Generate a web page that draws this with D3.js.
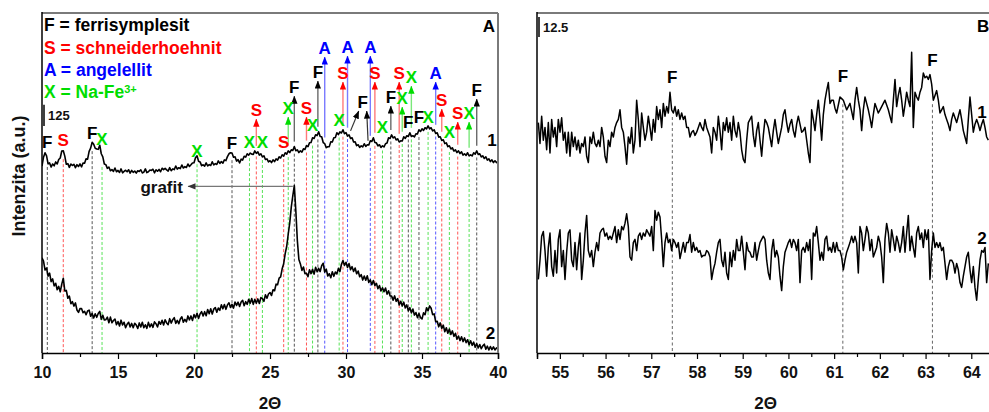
<!DOCTYPE html>
<html><head><meta charset="utf-8">
<script src="https://cdn.jsdelivr.net/npm/d3@7"></script>
<style>
body{margin:0;background:#fff;}
svg{display:block;font-family:Arial,"Liberation Sans",Helvetica,sans-serif;}
text{font-weight:bold;}
</style></head><body>
<svg id="chart" width="989" height="412"></svg>
<script>
// ---------------- DATA ----------------
// Panel A: 2-theta grid 10..40 step 0.1, intensities (a.u.)
const A_START = 10, A_STEP = 0.1;
const curveA1 = [
1100,1152,1178,1160,1112,1118,1094,1112,1101,1124,
1112,1138,1147,1188,1190,1158,1110,1114,1092,1112,
1103,1110,1090,1108,1097,1112,1095,1118,1116,1142,
1140,1186,1205,1240,1228,1204,1200,1198,1222,1172,
1154,1112,1108,1086,1094,1072,1079,1068,1088,1066,
1074,1062,1083,1060,1068,1075,1066,1078,1058,1074,
1063,1070,1058,1072,1068,1078,1059,1064,1083,1061,
1066,1076,1074,1081,1060,1078,1069,1080,1066,1087,
1079,1086,1077,1070,1090,1072,1083,1079,1100,1082,
1090,1085,1106,1088,1096,1091,1112,1097,1107,1118,
1119,1148,1160,1128,1124,1102,1107,1099,1118,1100,
1108,1103,1125,1106,1114,1109,1130,1115,1126,1117,
1136,1132,1155,1172,1178,1176,1152,1154,1129,1137,
1118,1140,1135,1157,1152,1172,1164,1176,1170,1168,
1189,1174,1183,1164,1172,1153,1160,1138,1142,1124,
1131,1120,1136,1126,1142,1135,1154,1147,1166,1158,
1178,1170,1189,1179,1195,1191,1214,1190,1195,1179,
1189,1182,1201,1197,1220,1214,1237,1238,1266,1262,
1284,1279,1301,1274,1272,1238,1231,1208,1213,1214,
1242,1241,1266,1268,1295,1285,1301,1294,1313,1290,
1296,1276,1283,1262,1266,1241,1242,1220,1225,1209,
1219,1212,1231,1215,1225,1224,1248,1244,1266,1238,
1236,1218,1225,1209,1219,1212,1231,1235,1266,1262,
1283,1265,1272,1253,1260,1241,1248,1247,1272,1262,
1278,1274,1295,1274,1278,1271,1289,1288,1313,1303,
1319,1309,1325,1318,1336,1318,1325,1306,1313,1291,
1295,1270,1272,1250,1254,1232,1236,1214,1219,1200,
1207,1188,1195,1179,1189,1173,1183,1164,1172,1162,
1178,1159,1166,1159,1178,1170,1189,1168,1172,1153,
1160,1144,1154,1135,1142,1126,1136,1120,1131,1120,
1126];
const curveA2 = [
560,540,488,500,452,470,420,436,395,410,
372,392,360,405,440,365,368,322,335,290,
302,276,295,253,239,261,262,237,245,225,
247,252,216,233,206,231,210,232,245,198,
222,194,196,211,178,211,178,191,200,166,
185,159,193,165,181,149,169,181,153,174,
149,175,164,144,177,153,181,149,166,145,
180,153,171,151,183,172,153,185,169,192,
165,195,177,167,202,176,196,208,174,192,
172,200,213,181,198,183,218,195,218,191,
226,207,234,203,230,243,218,243,219,256,
231,260,229,258,267,240,265,251,283,260,
285,257,283,295,268,286,264,300,280,299,
274,300,310,278,302,286,316,292,320,286,
316,293,318,291,326,320,304,343,322,347,
356,338,372,366,405,402,440,448,495,525,
585,628,700,765,858,925,985,835,660,550,
524,486,506,467,469,449,490,467,492,464,
504,478,498,479,514,528,476,493,453,466,
443,478,451,476,465,498,479,522,544,515,
534,503,526,490,508,480,500,466,482,449,
461,429,453,428,454,415,430,402,426,397,
410,378,397,365,384,361,382,346,366,336,
335,311,336,304,320,282,304,277,299,265,
283,248,267,236,259,223,238,208,232,208,
200,236,225,266,248,277,263,226,230,184,
187,154,177,145,164,125,148,116,141,109,
130,98,116,81,100,73,95,67,89,61,
78,48,72,45,64,34,55,30,50,25,
42,52,22,40,18,38,20,36,18,30,
24];
// Panel B: 2-theta grid from 54.529 with step 0.036458
const B_START = 54.529, B_STEP = 0.036458;
const curveB1 = [144,131,148,133,141,127,144,125,146,135,
141,129,146,138,147,133,138,125,138,123,
138,129,135,127,133,125,131,129,135,123,
119,135,131,138,131,129,133,129,141,135,
123,119,133,129,138,135,141,144,146,152,
141,138,129,118,135,131,141,125,133,158,
146,129,150,141,133,138,148,141,133,146,
138,154,146,152,141,156,148,154,150,163,
152,150,154,148,152,146,150,146,148,141,
141,135,138,139,136,138,141,144,141,139,
146,141,138,135,125,141,138,133,148,139,
127,144,139,147,138,144,133,148,139,135,
144,
138,127,121,119,133,144,146,148,136,129,
139,144,133,123,136,146,144,141,135,129,
139,146,138,131,136,141,149,152,144,138,
143,146,139,135,143,148,143,138,139,141,
133,125,119,152,146,139,149,158,146,133,
149,158,164,169,156,158,158,153,150,155,
160,159,158,155,152,154,156,151,146,158,
166,158,152,139,152,160,156,152,147,141,
149,156,153,150,152,154,156,158,155,152,
148,144,158,171,154,161,166,158,148,155,
163,158,154,188,141,163,160,158,163,166,
175,172,173,171,174,168,158,161,164,158,
150,152,154,149,146,143,139,146,150,147,
144,148,152,146,139,135,131,146,160,149,
138,143,146,143,139,143,146,141,135,133];
const curveB2 = [46,58,73,76,64,48,66,75,54,48,
64,50,71,77,54,64,46,63,75,77,
58,54,69,52,66,75,46,58,75,86,
64,60,64,54,63,69,64,75,77,78,
73,75,71,73,71,75,79,69,77,71,
79,77,81,87,79,60,58,69,71,64,
73,75,71,75,73,77,75,73,79,64,
89,83,88,85,71,54,69,75,69,71,
64,71,69,66,69,59,64,69,63,69,
69,74,63,69,64,66,63,64,60,61,
61,64,63,60,46,52,56,63,69,71,
58,54,63,50,46,63,54,64,58,71,
64,
64,73,63,52,69,64,63,60,60,69,
58,64,69,71,73,71,58,50,46,64,
71,60,64,60,48,39,54,63,66,69,
71,66,71,69,64,71,44,64,66,63,
69,64,71,46,75,73,79,69,58,63,
58,71,73,64,66,63,69,63,69,64,
64,60,52,58,63,66,69,73,69,73,
69,50,79,75,64,71,79,75,64,71,
60,63,66,73,69,60,44,71,81,75,
63,77,71,64,73,69,63,69,79,63,
75,86,64,73,66,60,75,79,71,75,
66,77,71,77,46,64,75,66,69,66,
69,64,66,56,46,54,58,58,56,50,
56,52,44,41,48,54,60,63,52,44,
54,41,33,46,58,64,63,66,44,56];

const xTicksA = [10,15,20,25,30,35,40];
const xMinorA = [12.5,17.5,22.5,27.5,32.5,37.5];
const xTicksB = [55,56,57,58,59,60,61,62,63,64];
const xMinorB = [54.5,55.5,56.5,57.5,58.5,59.5,60.5,61.5,62.5,63.5,64.5];

// peak marks: [phase, 2theta, label level (a.u.), arrow?]
const peakMarksA = [
 ["F",10.35,1241,0],["S",11.4,1253,0],["F",13.3,1294,0],["X",13.95,1259,0],
 ["X",20.2,1188,0],["F",22.5,1235,0],["X",23.65,1241,0],["S",24.1,1429,1],
 ["X",24.5,1241,0],["S",25.9,1241,0],["X",26.2,1441,1],["F",26.6,1564,1],
 ["S",27.4,1441,1],["X",27.8,1341,0],["F",28.15,1653,1],["A",28.6,1794,1],
 ["X",29.55,1370,0],["S",29.8,1647,1],["A",30.1,1800,1],["A",31.6,1800,1],
 ["S",31.9,1647,1],["X",32.4,1329,0],["F",32.95,1506,1],["S",33.5,1647,1],
 ["X",33.7,1500,1],["F",34.1,1359,0],["X",34.3,1623,1],["F",34.8,1388,0],
 ["X",35.4,1388,0],["A",35.9,1647,1],["S",36.3,1488,1],["X",36.8,1300,0],
 ["S",37.35,1412,1],["X",38.1,1412,1],["F",38.6,1547,1]
];
const doubleF = {theta:31.1, level:1476, targets:[30.3,31.45]};
const grafit = {peak:26.5, level:980, end:19.6};
const peakMarksB = [["F",57.46,172.5],["F",61.19,173],["F",63.15,183]];
const legendItems = [["F","F = ferrisymplesit"],["S","S = schneiderhoehnit"],["A","A = angelellit"],["X","X = Na-Fe"]];
const scaleA = {base:1335, size:125, label:"125"};
const scaleB = {base:197.5, size:12.5, label:"12.5"};

// ---------------- STYLE / LAYOUT ----------------
const phaseColor = {F:"#000000", S:"#ff0000", A:"#0000ff", X:"#00dd00"};
const shaftColor = {F:"#6a6a6a", S:"#ff7a7a", A:"#7a7aff", X:"#7ae87a"};
const dashColor  = {F:"#3a3a3a", S:"#ff3a3a", A:"#3a3aff", X:"#3ade3a"};
const PA = {l:42, r:498, t:13, b:353};
const PB = {l:537, r:1017, t:13, b:353};

const svg = d3.select("#chart");
const xA = d3.scaleLinear().domain([10,40]).range([PA.l,PA.r]);
const yA = d3.scaleLinear().domain([0,2000]).range([PA.b,PA.t]);
const xB = d3.scaleLinear().domain([54.5,65]).range([PB.l,PB.r]);
const yB = d3.scaleLinear().domain([0,212.5]).range([PB.b,PB.t]);

const A1 = curveA1.map((v,i)=>[A_START+i*A_STEP, v]);
const A2 = curveA2.map((v,i)=>[A_START+i*A_STEP, v]);
const B1 = curveB1.map((v,i)=>[B_START+i*B_STEP, v]);
const B2 = curveB2.map((v,i)=>[B_START+i*B_STEP, v]);

function near(series, t, w){ return series.filter(d=>Math.abs(d[0]-t)<=w+1e-9).map(d=>d[1]); }
const maxNear = (s,t,w)=>d3.max(near(s,t,w));
const minNear = (s,t,w)=>d3.min(near(s,t,w));

const defs = svg.append("defs");
defs.append("clipPath").attr("id","clipA").append("rect")
  .attr("x",PA.l).attr("y",PA.t).attr("width",PA.r-PA.l).attr("height",PA.b-PA.t);
defs.append("clipPath").attr("id","clipB").append("rect")
  .attr("x",PB.l).attr("y",PB.t).attr("width",PB.r-PB.l).attr("height",PB.b-PB.t);
function marker(id,color){
  defs.append("marker").attr("id",id).attr("viewBox","0 0 10 8")
    .attr("refX",9.5).attr("refY",4).attr("markerWidth",8).attr("markerHeight",6.4)
    .attr("markerUnits","userSpaceOnUse").attr("orient","auto")
    .append("path").attr("d","M0,0L10,4L0,8Z").attr("fill",color);
}
Object.keys(phaseColor).forEach(k=>marker("ah"+k, phaseColor[k]));
marker("ahG","#333");

const FS = 17;

// ---------- PANEL A ----------
const gA = svg.append("g");
const clipAg = gA.append("g").attr("clip-path","url(#clipA)");
clipAg.selectAll("line.dash").data(peakMarksA).join("line").attr("class","dash")
  .attr("x1",d=>xA(d[1])).attr("x2",d=>xA(d[1]))
  .attr("y1",d=>yA(minNear(A1,d[1],0.15))+3).attr("y2",PA.b)
  .attr("stroke",d=>dashColor[d[0]]).attr("stroke-width",1).attr("stroke-dasharray","3,2")
  .attr("opacity",0.85);

const lineA = d3.line().x(d=>xA(d[0])).y(d=>yA(d[1]));
[A1,A2].forEach(s=>clipAg.append("path").datum(s).attr("d",lineA)
  .attr("fill","none").attr("stroke","#000").attr("stroke-width",1.6).attr("stroke-linejoin","round"));

gA.selectAll("line.arr").data(peakMarksA.filter(d=>d[3])).join("line").attr("class","arr")
  .attr("x1",d=>xA(d[1])).attr("x2",d=>xA(d[1]))
  .attr("y1",d=>yA(maxNear(A1,d[1],0.15))-5).attr("y2",d=>yA(d[2])+9)
  .attr("stroke",d=>shaftColor[d[0]]).attr("stroke-width",1.4)
  .attr("marker-end",d=>`url(#ah${d[0]})`);
doubleF.targets.forEach((t,i)=>{
  gA.append("line")
    .attr("x1",xA(t)).attr("y1",yA(maxNear(A1,t,0.1))-4)
    .attr("x2",xA(doubleF.theta)+(i?4:-4)).attr("y2",yA(doubleF.level)+9)
    .attr("stroke","#333").attr("stroke-width",1.2).attr("marker-end","url(#ahF)");
});
gA.selectAll("text.pk").data(peakMarksA).join("text").attr("class","pk")
  .attr("x",d=>xA(d[1])).attr("y",d=>yA(d[2])).attr("dy","0.36em")
  .attr("text-anchor","middle").attr("font-size",FS).attr("fill",d=>phaseColor[d[0]])
  .text(d=>d[0]);
gA.append("text").attr("x",xA(doubleF.theta)).attr("y",yA(doubleF.level)).attr("dy","0.36em")
  .attr("text-anchor","middle").attr("font-size",FS).attr("fill","#000").text("F");

gA.append("line").attr("x1",xA(grafit.peak)).attr("x2",xA(grafit.end))
  .attr("y1",yA(grafit.level)).attr("y2",yA(grafit.level))
  .attr("stroke","#777").attr("stroke-width",1.2).attr("marker-end","url(#ahG)");
gA.append("text").attr("x",xA(grafit.end)-5).attr("y",yA(grafit.level)).attr("dy","0.36em")
  .attr("text-anchor","end").attr("font-size",FS).attr("fill","#111").text("grafit");

const leg = gA.selectAll("text.leg").data(legendItems).join("text").attr("class","leg")
  .attr("x",PA.l+2).attr("y",(d,i)=>25+i*22.3).attr("dy","0.36em")
  .attr("font-size",17.5).attr("fill",d=>phaseColor[d[0]]).text(d=>d[1]);
leg.filter(d=>d[0]==="X").append("tspan").attr("dy","-0.45em").attr("font-size",11).text("3+");

gA.append("line").attr("x1",PA.l+2).attr("x2",PA.l+2)
  .attr("y1",yA(scaleA.base)).attr("y2",yA(scaleA.base+scaleA.size))
  .attr("stroke","#000").attr("stroke-width",1.5);
gA.append("text").attr("x",PA.l+6).attr("y",(yA(scaleA.base)+yA(scaleA.base+scaleA.size))/2)
  .attr("dy","0.36em").attr("font-size",13).attr("fill","#111").text(scaleA.label);

gA.append("text").attr("x",xA(39.6)).attr("y",yA(1255)).attr("dy","0.36em")
  .attr("text-anchor","middle").attr("font-size",FS).text("1");
gA.append("text").attr("x",xA(39.5)).attr("y",yA(118)).attr("dy","0.36em")
  .attr("text-anchor","middle").attr("font-size",FS).text("2");
gA.append("text").attr("x",PA.r-3).attr("y",26).attr("dy","0.36em")
  .attr("text-anchor","end").attr("font-size",FS).text("A");

// ---------- PANEL B ----------
const gB = svg.append("g");
const clipBg = gB.append("g").attr("clip-path","url(#clipB)");
clipBg.selectAll("line.dash").data(peakMarksB).join("line").attr("class","dash")
  .attr("x1",d=>xB(d[1])).attr("x2",d=>xB(d[1]))
  .attr("y1",d=>yB(minNear(B1,d[1],0.04))+4).attr("y2",PB.b)
  .attr("stroke","#666").attr("stroke-width",1).attr("stroke-dasharray","3,2.5");
const lineB = d3.line().x(d=>xB(d[0])).y(d=>yB(d[1]));
[B1,B2].forEach(s=>clipBg.append("path").datum(s).attr("d",lineB)
  .attr("fill","none").attr("stroke","#000").attr("stroke-width",1.5).attr("stroke-linejoin","round"));
gB.selectAll("text.pk").data(peakMarksB).join("text").attr("class","pk")
  .attr("x",d=>xB(d[1])).attr("y",d=>yB(d[2])).attr("dy","0.36em")
  .attr("text-anchor","middle").attr("font-size",FS).attr("fill","#000").text(d=>d[0]);
gB.append("line").attr("x1",PB.l+2).attr("x2",PB.l+2)
  .attr("y1",yB(scaleB.base)).attr("y2",yB(scaleB.base+scaleB.size))
  .attr("stroke","#000").attr("stroke-width",1.5);
gB.append("text").attr("x",PB.l+6).attr("y",(yB(scaleB.base)+yB(scaleB.base+scaleB.size))/2)
  .attr("dy","0.36em").attr("font-size",13).attr("fill","#111").text(scaleB.label);
gB.append("text").attr("x",xB(64.13)).attr("y",yB(150.6)).attr("dy","0.36em")
  .attr("text-anchor","start").attr("font-size",FS).text("1");
gB.append("text").attr("x",xB(64.13)).attr("y",yB(72)).attr("dy","0.36em")
  .attr("text-anchor","start").attr("font-size",FS).text("2");
gB.append("text").attr("x",977).attr("y",26).attr("dy","0.36em")
  .attr("text-anchor","start").attr("font-size",FS).text("B");

// ---------- AXES & FRAMES ----------
function drawAxis(x, P, major, minor){
  const g = svg.append("g").attr("transform",`translate(0,${P.b})`)
    .call(d3.axisBottom(x).tickValues(major).tickSize(6).tickPadding(8).tickFormat(d3.format("d")));
  g.select(".domain").attr("stroke","#000").attr("stroke-width",1.5);
  g.selectAll(".tick line").attr("stroke","#000").attr("stroke-width",1.2);
  g.selectAll(".tick text").attr("font-size",16).attr("font-weight","bold").attr("fill","#111")
    .attr("font-family","Arial,'Liberation Sans',sans-serif");
  const m = svg.append("g").attr("transform",`translate(0,${P.b})`)
    .call(d3.axisBottom(x).tickValues(minor).tickSize(4).tickFormat(""));
  m.select(".domain").remove();
  m.selectAll(".tick line").attr("stroke","#000").attr("stroke-width",1.2);
  svg.append("line").attr("x1",P.l).attr("x2",P.r).attr("y1",P.t).attr("y2",P.t)
    .attr("stroke","#7a7a7a").attr("stroke-width",2);
  svg.append("line").attr("x1",P.r).attr("x2",P.r).attr("y1",P.t).attr("y2",P.b)
    .attr("stroke","#7a7a7a").attr("stroke-width",2);
  svg.append("line").attr("x1",P.l).attr("x2",P.l).attr("y1",P.t-1).attr("y2",P.b)
    .attr("stroke","#000").attr("stroke-width",1.5);
}
drawAxis(xA, PA, xTicksA, xMinorA);
drawAxis(xB, PB, xTicksB, xMinorB);

svg.append("text").attr("x",xA(25)).attr("y",403).attr("dy","0.36em")
  .attr("text-anchor","middle").attr("font-size",FS).attr("fill","#111").text("2Θ");
svg.append("text").attr("x",xB(59.5)).attr("y",403).attr("dy","0.36em")
  .attr("text-anchor","middle").attr("font-size",FS).attr("fill","#111").text("2Θ");
svg.append("text").attr("transform","translate(19,176) rotate(-90)").attr("dy","0.36em")
  .attr("text-anchor","middle").attr("font-size",18).attr("fill","#111").text("Intenzita (a.u.)");
</script>
</body></html>
